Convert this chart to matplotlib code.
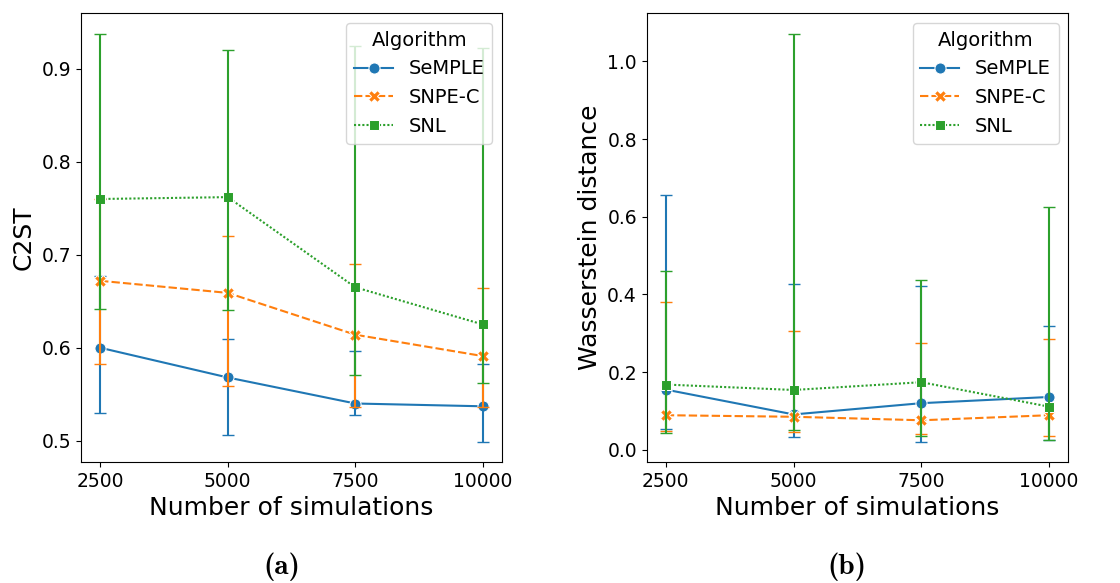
import matplotlib.pyplot as plt
import numpy as np

# number of simulations (x axis, shared)
n_sims = [2500, 5000, 7500, 10000]
algorithms = ["SeMPLE", "SNPE-C", "SNL"]

# C2ST: mean, lower and upper ends of the error bars
c2st_mean = {
    "SeMPLE": [0.600, 0.568, 0.540, 0.537],
    "SNPE-C": [0.672, 0.659, 0.614, 0.591],
    "SNL": [0.760, 0.762, 0.665, 0.625],
}
c2st_low = {
    "SeMPLE": [0.530, 0.506, 0.528, 0.499],
    "SNPE-C": [0.583, 0.559, 0.536, 0.536],
    "SNL": [0.642, 0.641, 0.571, 0.562],
}
c2st_high = {
    "SeMPLE": [0.677, 0.609, 0.597, 0.582],
    "SNPE-C": [0.760, 0.720, 0.690, 0.664],
    "SNL": [0.938, 0.920, 0.925, 0.922],
}

# Wasserstein distance: mean, lower and upper ends of the error bars
wass_mean = {
    "SeMPLE": [0.155, 0.091, 0.120, 0.136],
    "SNPE-C": [0.089, 0.085, 0.076, 0.089],
    "SNL": [0.168, 0.154, 0.174, 0.111],
}
wass_low = {
    "SeMPLE": [0.054, 0.034, 0.021, 0.025],
    "SNPE-C": [0.049, 0.046, 0.040, 0.036],
    "SNL": [0.044, 0.051, 0.035, 0.025],
}
wass_high = {
    "SeMPLE": [0.656, 0.428, 0.422, 0.319],
    "SNPE-C": [0.380, 0.306, 0.276, 0.286],
    "SNL": [0.461, 1.072, 0.436, 0.626],
}

colors = {"SeMPLE": "#1f77b4", "SNPE-C": "#ff7f0e", "SNL": "#2ca02c"}
markers = {"SeMPLE": "o", "SNPE-C": "X", "SNL": "s"}
msizes = {"SeMPLE": 8, "SNPE-C": 8, "SNL": 6.5}
dashes = {"SeMPLE": None, "SNPE-C": (4, 1.5), "SNL": (1, 1)}


def draw_panel(ax, mean, low, high, ylabel):
    for alg in algorithms:
        m = np.array(mean[alg])
        err = np.vstack([m - np.array(low[alg]), np.array(high[alg]) - m])
        line, = ax.plot(n_sims, m, color=colors[alg], marker=markers[alg],
                        markersize=msizes[alg], markeredgecolor="w",
                        markeredgewidth=0.75, linewidth=1.5, label=alg)
        if dashes[alg]:
            line.set_dashes(dashes[alg])
        ax.errorbar(n_sims, m, yerr=err, linestyle="", color=colors[alg],
                    capsize=4.5, elinewidth=1.5)
    ax.set_xticks(n_sims)
    ax.set_xlabel("Number of simulations", fontsize=18)
    ax.set_ylabel(ylabel, fontsize=18)
    ax.tick_params(labelsize=13.5)
    ax.legend(title="Algorithm", loc="upper right", fontsize=14,
              title_fontsize=14)


fig = plt.figure(figsize=(11.2, 5.83), dpi=100)
ax1 = fig.add_axes([0.0723, 0.2075, 0.376, 0.770])
ax2 = fig.add_axes([0.5774, 0.2075, 0.3764, 0.770])

draw_panel(ax1, c2st_mean, c2st_low, c2st_high, "C2ST")
ax1.set_yticks([0.5, 0.6, 0.7, 0.8, 0.9])
draw_panel(ax2, wass_mean, wass_low, wass_high, "Wasserstein distance")
ax2.set_yticks([0.0, 0.2, 0.4, 0.6, 0.8, 1.0])

# subfigure captions in bold Computer Modern
fig.text(0.252, 0.0274, "(a)", ha="center", va="center",
         fontsize=21, family="cmb10")
fig.text(0.756, 0.0274, "(b)", ha="center", va="center",
         fontsize=21, family="cmb10")

fig.savefig("out.png", dpi=100)
